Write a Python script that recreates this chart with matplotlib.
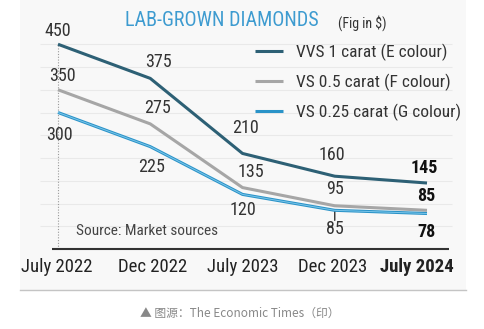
import matplotlib
matplotlib.use("Agg")
import matplotlib.pyplot as plt
from matplotlib import font_manager
from matplotlib.patches import Rectangle
from matplotlib.lines import Line2D

# pick the narrowest sans that is installed
_fonts = {(f.name, f.stretch) for f in font_manager.fontManager.ttflist}
_names = {n for n, s in _fonts}
stretch = "normal"
if "Roboto Condensed" in _names:
    base = "Roboto Condensed"
elif "Liberation Sans Narrow" in _names:
    base = "Liberation Sans Narrow"
elif "Open Sans Condensed" in _names:
    base = "Open Sans Condensed"
elif ("DejaVu Sans", "condensed") in _fonts:
    base, stretch = "DejaVu Sans", "condensed"
else:
    base = "Roboto"
plt.rcParams['font.family'] = [base, 'DejaVu Sans']
plt.rcParams['font.stretch'] = stretch

periods = ["July 2022", "Dec 2022", "July 2023", "Dec 2023", "July 2024"]
vvs_1ct = [450, 375, 210, 160, 145]
vs_050ct = [350, 275, 135, 95, 85]
vs_025ct = [300, 225, 120, 85, 78]
series_names = ["VVS 1 carat (E colour)", "VS 0.5 carat (F colour)", "VS 0.25 carat (G colour)"]
colors = ["#2d6075", "#a6a6a6", "#2a93c8"]

# label offsets in pixels (dx, dy) for each point
off_vvs = [(0, 13), (8, 16), (3, 25), (-3, 21), (-3, 15)]
off_050 = [(4, 14), (7, 16), (8, 16), (0, 17), (-1, 14)]
off_025 = [(1, -22), (1, -20), (0, -16), (0, -19), (-1, -18)]
tick_dx = [-1, 2, 0, -2, -10]

W, H = 484, 329
fig = plt.figure(figsize=(W / 100, H / 100), dpi=100)
fig.patch.set_facecolor("white")

ax = fig.add_axes([0, 0, 1, 1])
ax.set_facecolor("none")
ax.axis("off")
# data -> pixel: x = 58 + 92.25*i, y = 249 - 0.455*v
ax.set_xlim(-58 / 92.25, (W - 58) / 92.25)
ax.set_ylim((249 - H) / 0.455, 249 / 0.455)

# panel background and bottom rule
ax.add_patch(Rectangle((20 / W, 1 - 290 / H), 446 / W, 290 / H,
                       transform=fig.transFigure, facecolor="#f8f8f8",
                       edgecolor="none", zorder=0))
ax.add_line(Line2D([20 / W, 466 / W], [1 - 290 / H] * 2, transform=fig.transFigure,
                   color="#c4c4c4", lw=1, zorder=1))

xs = list(range(len(periods)))
for g in range(50, 451, 50):
    ax.hlines(g, (40 - 58) / 92.25, (452 - 58) / 92.25, color="#e9e9e9", lw=0.8, zorder=1)
ax.vlines(0, 0, 450, color="#9a9a9a", lw=0.8, linestyles=(0, (1, 1.5)), zorder=2)
ax.hlines(0, (52 - 58) / 92.25, (449 - 58) / 92.25, color="#333333", lw=1.5, zorder=3)

for vals, offs, col, name in [(vvs_1ct, off_vvs, colors[0], series_names[0]),
                              (vs_050ct, off_050, colors[1], series_names[1]),
                              (vs_025ct, off_025, colors[2], series_names[2])]:
    ax.plot(xs, vals, color=col, lw=2.2, label=name, zorder=4, solid_capstyle="butt")
    for i, (v, (dx, dy)) in enumerate(zip(vals, offs)):
        last = i == len(vals) - 1
        ax.annotate(str(v), (i, v), xytext=(dx, dy), textcoords="offset pixels",
                    ha="center", va="center", fontsize=13,
                    fontweight="bold" if last else "normal",
                    color="#111111" if last else "#333333")

# lighter core on the smallest-stone line
ax.plot(xs, vs_025ct, color="#7cc6ea", lw=0.7, zorder=5, solid_capstyle="butt")

# small leader under the Dec 2023 value of the smallest stone
ax.annotate("", (3, vs_025ct[3]), xytext=(0, -10), textcoords="offset pixels",
            arrowprops=dict(arrowstyle="-", color="#333333", lw=1, shrinkA=0, shrinkB=0))

for i, p in enumerate(periods):
    last = i == len(periods) - 1
    ax.annotate(p, (i, 0), xytext=(tick_dx[i], -18), textcoords="offset pixels",
                ha="center", va="center", fontsize=13.5,
                fontweight="bold" if last else "normal", color="#222222")

leg = ax.legend(loc="upper left", bbox_to_anchor=(255 / W, 1 - 44 / H), frameon=False,
                fontsize=12.5, handlelength=1.6, handletextpad=0.75, labelspacing=0.72,
                borderpad=0, borderaxespad=0)
for t in leg.get_texts():
    t.set_color("#333333")

fig.text(222 / W, 1 - 20 / H, "LAB-GROWN DIAMONDS", color="#3d9bd0", fontsize=14.5,
         ha="center", va="center")
fig.text(338 / W, 1 - 23 / H, "(Fig in $)", color="#333333", fontsize=10,
         ha="left", va="center")
fig.text(76 / W, 1 - 231 / H, "Source: Market sources", color="#444444", fontsize=11,
         ha="left", va="center")
fig.text(240 / W, 1 - 313 / H, "▲ 图源：The Economic Times（印）", color="#888888",
         fontsize=8.5, ha="center", va="center",
         family=["Noto Sans CJK SC", "DejaVu Sans"])

fig.savefig("out.png", dpi=100)
